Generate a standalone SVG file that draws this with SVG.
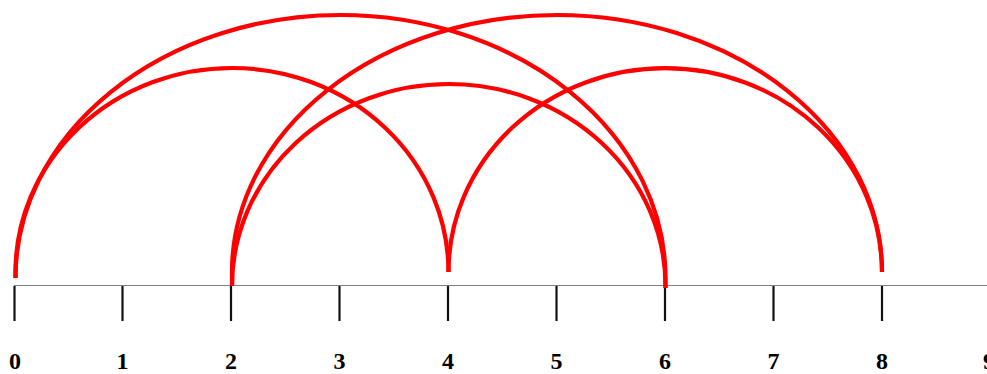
<svg xmlns="http://www.w3.org/2000/svg" width="987" height="374" viewBox="0 0 987 374">
<style>
.axis{stroke:#808080;stroke-width:1.2;fill:none}
.tick{stroke:#111;stroke-width:2.2;fill:none}
.arc{stroke:#ff0000;stroke-width:4.2;fill:none;stroke-linecap:butt}
.lbl{font-family:"Liberation Serif","Times New Roman",serif;font-weight:bold;font-size:24px;fill:#000;text-anchor:middle}
</style>
<rect width="987" height="374" fill="#fff"/>
<g id="axis">
<line class="axis" x1="14" y1="285.5" x2="987" y2="285.5"/>
<g class="ticks">
<line class="tick" x1="14.5" y1="286" x2="14.5" y2="321"/>
<line class="tick" x1="122.5" y1="286" x2="122.5" y2="321"/>
<line class="tick" x1="231" y1="286" x2="231" y2="321"/>
<line class="tick" x1="339.5" y1="286" x2="339.5" y2="321"/>
<line class="tick" x1="448" y1="286" x2="448" y2="321"/>
<line class="tick" x1="556.5" y1="286" x2="556.5" y2="321"/>
<line class="tick" x1="665" y1="286" x2="665" y2="321"/>
<line class="tick" x1="773.5" y1="286" x2="773.5" y2="321"/>
<line class="tick" x1="882" y1="286" x2="882" y2="321"/>
</g>
<g class="labels">
<text class="lbl" x="15" y="369">0</text>
<text class="lbl" x="122.5" y="369">1</text>
<text class="lbl" x="231" y="369">2</text>
<text class="lbl" x="339.5" y="369">3</text>
<text class="lbl" x="448" y="369">4</text>
<text class="lbl" x="556.5" y="369">5</text>
<text class="lbl" x="665" y="369">6</text>
<text class="lbl" x="773.5" y="369">7</text>
<text class="lbl" x="882" y="369">8</text>
<text class="lbl" x="989" y="369">9</text>
</g>
</g>
<g id="connectors">
<path id="arc-0-6" class="arc" d="M 15.5 278 A 325 263 0 0 1 665.5 278 L 665.5 288"/>
<path id="arc-2-8" class="arc" d="M 232 286 L 232 272 A 325 257 0 0 1 882 272"/>
<path id="arc-0-4" class="arc" d="M 15.5 278 L 15.5 272 A 216.5 204 0 0 1 448.5 272"/>
<path id="arc-2-6" class="arc" d="M 232 286 A 216.75 202 0 0 1 665.5 286 L 665.5 288"/>
<path id="arc-4-8" class="arc" d="M 448.5 272 A 216.75 204 0 0 1 882 272"/>
</g>
</svg>
